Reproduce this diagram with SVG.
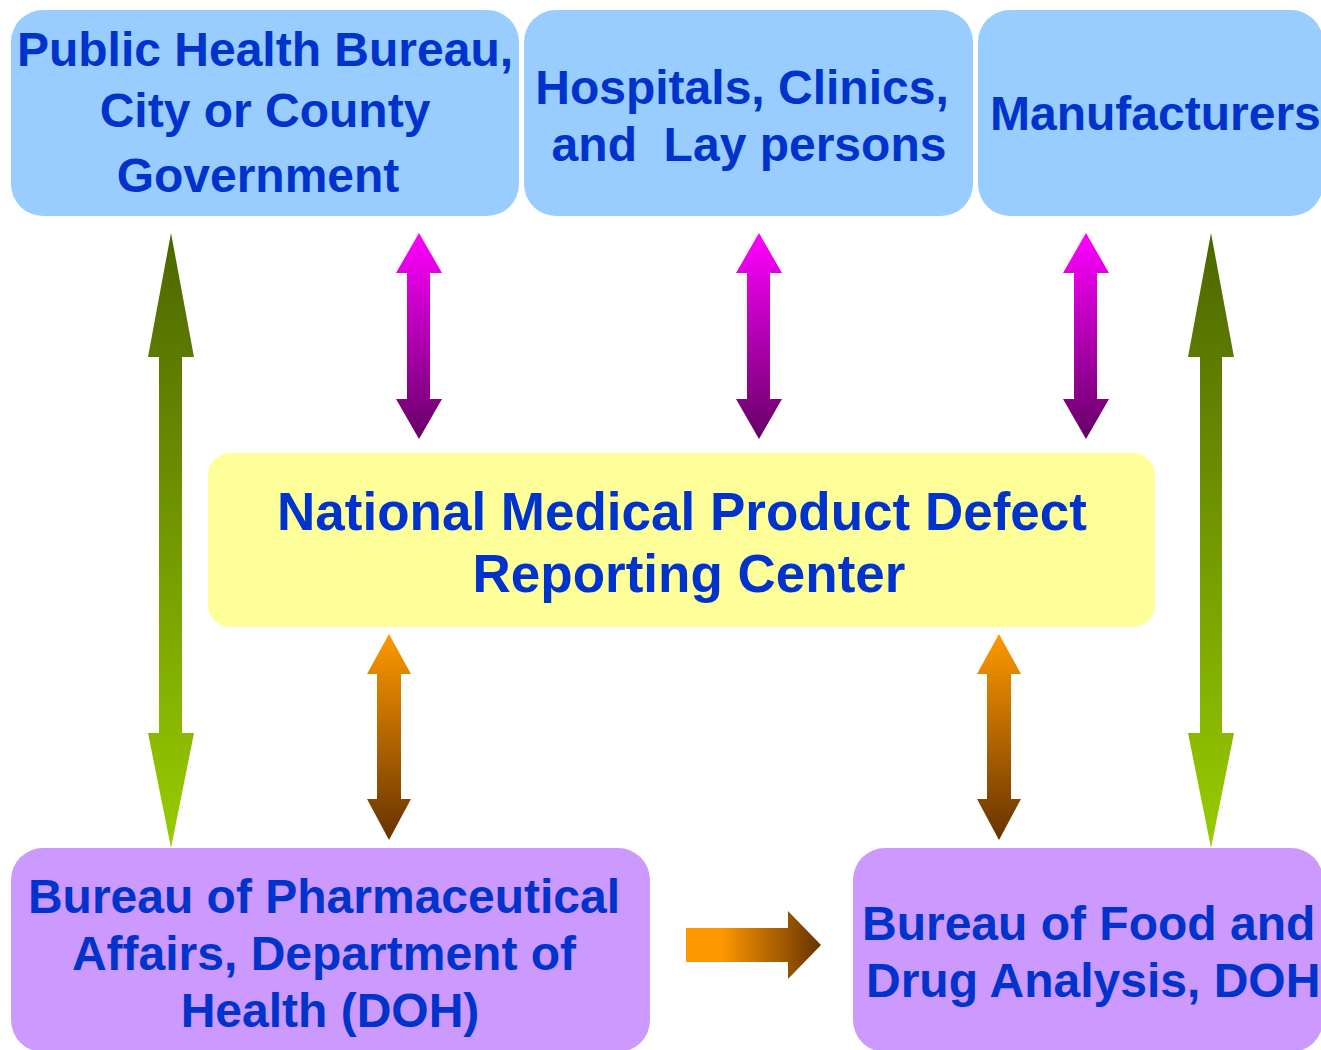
<svg xmlns="http://www.w3.org/2000/svg" width="1321" height="1050" viewBox="0 0 1321 1050">
  <defs>
    <linearGradient id="gGreen" x1="0" y1="0" x2="0" y2="1">
      <stop offset="0" stop-color="#4d6600"/>
      <stop offset="1" stop-color="#99cc00"/>
    </linearGradient>
    <linearGradient id="gMagenta" x1="0" y1="0" x2="0" y2="1">
      <stop offset="0" stop-color="#ff00ff"/>
      <stop offset="1" stop-color="#660066"/>
    </linearGradient>
    <linearGradient id="gOrange" x1="0" y1="0" x2="0" y2="1">
      <stop offset="0" stop-color="#ff9900"/>
      <stop offset="1" stop-color="#663300"/>
    </linearGradient>
    <linearGradient id="gOrangeH" x1="0" y1="0" x2="1" y2="0">
      <stop offset="0" stop-color="#ff9900"/>
      <stop offset="0.25" stop-color="#ff9900"/>
      <stop offset="1" stop-color="#663300"/>
    </linearGradient>
  </defs>
  <style>
    .lbl { font-family: "Liberation Sans", Arial, sans-serif; font-weight: bold; fill: #0033cc; font-size: 48px; }
    .mid { text-anchor: middle; }
    .big { font-size: 53px; }
    .blue { fill: #99ccff; }
    .yellow { fill: #ffff99; }
    .purple { fill: #cc99ff; }
  </style>

  <rect width="1321" height="1050" fill="#ffffff"/>

  <!-- connectors -->
  <g id="connectors">
    <polygon fill="url(#gGreen)" points="171,233 194,357 182,357 182,733 194,733 171,848 148,733 159,733 159,357 148,357"/>
    <polygon fill="url(#gGreen)" points="1211,233 1234,357 1222,357 1222,733 1234,733 1211,848 1188,733 1200,733 1200,357 1188,357"/>
    <polygon fill="url(#gMagenta)" points="419,233 442,273 430,273 430,399 442,399 419,439 396,399 407,399 407,273 396,273"/>
    <polygon fill="url(#gMagenta)" points="759,233 782,273 770,273 770,399 782,399 759,439 736,399 747,399 747,273 736,273"/>
    <polygon fill="url(#gMagenta)" points="1086,233 1109,273 1097,273 1097,399 1109,399 1086,439 1063,399 1074,399 1074,273 1063,273"/>
    <polygon fill="url(#gOrange)" points="389,634 411,674 401,674 401,799 411,799 389,840 367,799 377,799 377,674 367,674"/>
    <polygon fill="url(#gOrange)" points="999,634 1021,674 1011,674 1011,799 1021,799 999,840 977,799 987,799 987,674 977,674"/>
    <polygon fill="url(#gOrangeH)" points="686,928 788,928 788,911 821,945 788,979 788,962 686,962"/>
  </g>

  <!-- top row -->
  <g id="public-health">
    <rect class="blue" x="11" y="10" width="508" height="206" rx="32"/>
    <text class="lbl mid" x="265" y="66">Public Health Bureau,</text>
    <text class="lbl mid" x="265" y="127">City or County</text>
    <text class="lbl mid" x="258" y="192">Government</text>
  </g>
  <g id="hospitals">
    <rect class="blue" x="524" y="10" width="449" height="206" rx="32"/>
    <text class="lbl mid" x="742" y="104">Hospitals, Clinics,</text>
    <text class="lbl mid" x="749" y="161" xml:space="preserve">and  Lay persons</text>
  </g>
  <g id="manufacturers">
    <rect class="blue" x="978" y="10" width="345" height="206" rx="32"/>
    <text class="lbl" x="990" y="130">Manufacturers</text>
  </g>

  <!-- centre -->
  <g id="reporting-center">
    <rect class="yellow" x="208" y="453" width="947" height="174" rx="22"/>
    <text class="lbl mid big" x="682" y="530">National Medical Product Defect</text>
    <text class="lbl mid big" x="689" y="592">Reporting Center</text>
  </g>

  <!-- bottom row -->
  <g id="pharmaceutical-affairs">
    <rect class="purple" x="11" y="848" width="639" height="204" rx="32"/>
    <text class="lbl mid" x="324" y="913">Bureau of Pharmaceutical</text>
    <text class="lbl mid" x="324" y="970">Affairs, Department of</text>
    <text class="lbl mid" x="330" y="1027">Health (DOH)</text>
  </g>
  <g id="food-drug-analysis">
    <rect class="purple" x="853" y="848" width="470" height="204" rx="32"/>
    <text class="lbl" x="862" y="940">Bureau of Food and</text>
    <text class="lbl" x="866" y="997">Drug Analysis, DOH</text>
  </g>
</svg>
